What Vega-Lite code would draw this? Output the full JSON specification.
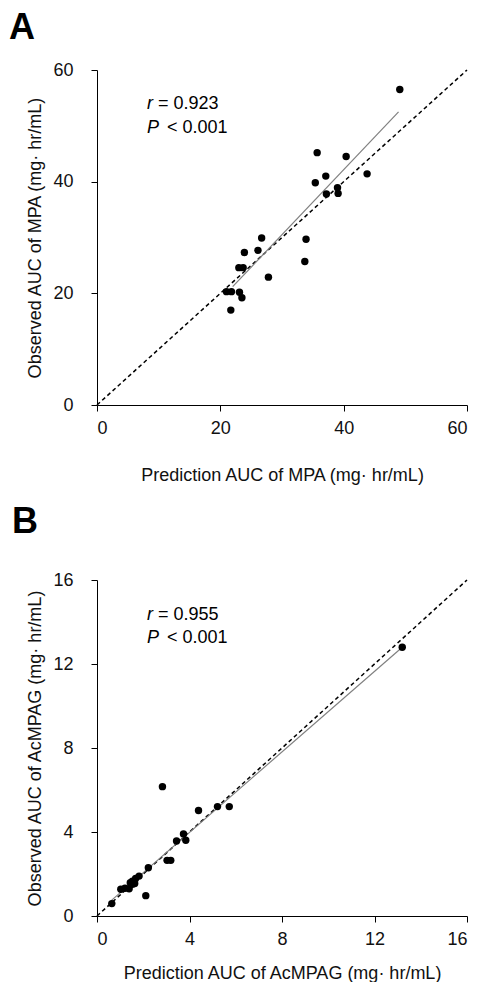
{
  "$schema": "https://vega.github.io/schema/vega-lite/v6.json",
  "padding": {"left": 9, "top": 10, "right": 0, "bottom": 0},
  "background": "white",
  "datasets": {
    "ptsA": [
      {"pred": 49.1, "obs": 56.5}, {"pred": 35.7, "obs": 45.2}, {"pred": 40.4, "obs": 44.5}, {"pred": 37.1, "obs": 41.0},
      {"pred": 43.8, "obs": 41.4}, {"pred": 35.4, "obs": 39.8}, {"pred": 39.0, "obs": 38.9}, {"pred": 37.2, "obs": 37.8},
      {"pred": 39.1, "obs": 37.9}, {"pred": 26.7, "obs": 29.9}, {"pred": 33.9, "obs": 29.7}, {"pred": 26.1, "obs": 27.7},
      {"pred": 23.9, "obs": 27.3}, {"pred": 33.7, "obs": 25.7}, {"pred": 23.0, "obs": 24.6}, {"pred": 23.7, "obs": 24.6},
      {"pred": 27.8, "obs": 22.9}, {"pred": 21.0, "obs": 20.3}, {"pred": 21.8, "obs": 20.3}, {"pred": 23.1, "obs": 20.2},
      {"pred": 23.5, "obs": 19.2}, {"pred": 21.7, "obs": 17.0}
    ],
    "identA": [{"pred": 0, "obs": 0}, {"pred": 60, "obs": 60}],
    "regA": [{"pred": 22.0, "obs": 21.2}, {"pred": 48.9, "obs": 52.5}],
    "statA": [
      {"sym": "r", "rest": "= 0.923", "pred": 8.1, "obs": 53.0},
      {"sym": "P", "rest": "< 0.001", "pred": 8.1, "obs": 48.7}
    ],
    "ptsB": [
      {"pred": 13.2, "obs": 12.8}, {"pred": 2.83, "obs": 6.16}, {"pred": 4.39, "obs": 5.02}, {"pred": 5.21, "obs": 5.21},
      {"pred": 5.72, "obs": 5.21}, {"pred": 3.74, "obs": 3.91}, {"pred": 3.44, "obs": 3.57}, {"pred": 3.84, "obs": 3.61},
      {"pred": 3.03, "obs": 2.65}, {"pred": 3.19, "obs": 2.65}, {"pred": 2.22, "obs": 2.30}, {"pred": 1.82, "obs": 1.90},
      {"pred": 1.67, "obs": 1.79}, {"pred": 1.53, "obs": 1.66}, {"pred": 1.53, "obs": 1.51}, {"pred": 1.39, "obs": 1.30},
      {"pred": 1.21, "obs": 1.32}, {"pred": 1.03, "obs": 1.27}, {"pred": 1.63, "obs": 1.55}, {"pred": 2.11, "obs": 0.97},
      {"pred": 0.64, "obs": 0.59}, {"pred": 1.44, "obs": 1.58}
    ],
    "identB": [{"pred": 0, "obs": 0}, {"pred": 16, "obs": 16}],
    "regB": [{"pred": 0.6, "obs": 0.72}, {"pred": 13.2, "obs": 12.8}],
    "statB": [
      {"sym": "r", "rest": "= 0.955", "pred": 2.16, "obs": 14.1},
      {"sym": "P", "rest": "< 0.001", "pred": 2.16, "obs": 13.0}
    ]
  },
  "spacing": 20,
  "vconcat": [
    {
      "width": 370,
      "height": 335,
      "title": {"text": "A", "anchor": "start", "frame": "group", "dx": -88, "offset": -14, "fontSize": 36, "fontWeight": "bold", "baseline": "alphabetic", "font": "Liberation Sans", "color": "black"},
      "layer": [
        {
          "data": {"name": "identA"},
          "mark": {"type": "line", "color": "black", "strokeDash": [4, 3], "strokeWidth": 1.5},
          "encoding": {
            "x": {"field": "pred", "type": "quantitative", "scale": {"domain": [0, 60], "nice": false, "zero": false},
                  "axis": {"values": [0, 20, 40, 60], "title": "Prediction AUC of MPA (mg· hr/mL)", "titlePadding": 29}},
            "y": {"field": "obs", "type": "quantitative", "scale": {"domain": [0, 60], "nice": false, "zero": false},
                  "axis": {"values": [0, 20, 40, 60], "title": "Observed AUC of MPA (mg· hr/mL)"}}
          }
        },
        {
          "data": {"name": "regA"},
          "mark": {"type": "line", "color": "#808080", "strokeWidth": 1.2},
          "encoding": {"x": {"field": "pred", "type": "quantitative"}, "y": {"field": "obs", "type": "quantitative"}}
        },
        {
          "data": {"name": "ptsA"},
          "mark": {"type": "circle", "color": "black", "opacity": 1, "size": 55},
          "encoding": {"x": {"field": "pred", "type": "quantitative"}, "y": {"field": "obs", "type": "quantitative"}}
        },
        {
          "data": {"name": "statA"},
          "mark": {"type": "text", "align": "left", "baseline": "alphabetic", "fontSize": 18, "fontStyle": "italic", "color": "black"},
          "encoding": {"x": {"field": "pred", "type": "quantitative"}, "y": {"field": "obs", "type": "quantitative"}, "text": {"field": "sym"}}
        },
        {
          "data": {"name": "statA"},
          "transform": [{"filter": "datum.sym == 'r'"}],
          "mark": {"type": "text", "align": "left", "baseline": "alphabetic", "fontSize": 18, "color": "black", "dx": 11},
          "encoding": {"x": {"field": "pred", "type": "quantitative"}, "y": {"field": "obs", "type": "quantitative"}, "text": {"field": "rest"}}
        },
        {
          "data": {"name": "statA"},
          "transform": [{"filter": "datum.sym == 'P'"}],
          "mark": {"type": "text", "align": "left", "baseline": "alphabetic", "fontSize": 18, "color": "black", "dx": 20},
          "encoding": {"x": {"field": "pred", "type": "quantitative"}, "y": {"field": "obs", "type": "quantitative"}, "text": {"field": "rest"}}
        }
      ]
    },
    {
      "width": 370,
      "height": 336,
      "title": {"text": "B", "anchor": "start", "frame": "group", "dx": -85, "offset": 2, "fontSize": 36, "fontWeight": "bold", "baseline": "alphabetic", "font": "Liberation Sans", "color": "black"},
      "layer": [
        {
          "data": {"name": "identB"},
          "mark": {"type": "line", "color": "black", "strokeDash": [4, 3], "strokeWidth": 1.5},
          "encoding": {
            "x": {"field": "pred", "type": "quantitative", "scale": {"domain": [0, 16], "nice": false, "zero": false},
                  "axis": {"values": [0, 4, 8, 12, 16], "title": "Prediction AUC of AcMPAG (mg· hr/mL)", "titlePadding": 16}},
            "y": {"field": "obs", "type": "quantitative", "scale": {"domain": [0, 16], "nice": false, "zero": false},
                  "axis": {"values": [0, 4, 8, 12, 16], "title": "Observed AUC of AcMPAG (mg· hr/mL)"}}
          }
        },
        {
          "data": {"name": "regB"},
          "mark": {"type": "line", "color": "#808080", "strokeWidth": 1.2},
          "encoding": {"x": {"field": "pred", "type": "quantitative"}, "y": {"field": "obs", "type": "quantitative"}}
        },
        {
          "data": {"name": "ptsB"},
          "mark": {"type": "circle", "color": "black", "opacity": 1, "size": 55},
          "encoding": {"x": {"field": "pred", "type": "quantitative"}, "y": {"field": "obs", "type": "quantitative"}}
        },
        {
          "data": {"name": "statB"},
          "mark": {"type": "text", "align": "left", "baseline": "alphabetic", "fontSize": 18, "fontStyle": "italic", "color": "black"},
          "encoding": {"x": {"field": "pred", "type": "quantitative"}, "y": {"field": "obs", "type": "quantitative"}, "text": {"field": "sym"}}
        },
        {
          "data": {"name": "statB"},
          "transform": [{"filter": "datum.sym == 'r'"}],
          "mark": {"type": "text", "align": "left", "baseline": "alphabetic", "fontSize": 18, "color": "black", "dx": 11},
          "encoding": {"x": {"field": "pred", "type": "quantitative"}, "y": {"field": "obs", "type": "quantitative"}, "text": {"field": "rest"}}
        },
        {
          "data": {"name": "statB"},
          "transform": [{"filter": "datum.sym == 'P'"}],
          "mark": {"type": "text", "align": "left", "baseline": "alphabetic", "fontSize": 18, "color": "black", "dx": 20},
          "encoding": {"x": {"field": "pred", "type": "quantitative"}, "y": {"field": "obs", "type": "quantitative"}, "text": {"field": "rest"}}
        }
      ]
    }
  ],
  "config": {
    "font": "Liberation Sans",
    "view": {"stroke": null},
    "axis": {
      "grid": false,
      "domainColor": "black",
      "domainWidth": 1,
      "tickColor": "black",
      "tickSize": 6,
      "labelFontSize": 18,
      "labelColor": "#111",
      "labelPadding": 8,
      "titleFontSize": 18,
      "titleFontWeight": "normal",
      "titleColor": "#111"
    },
    "axisY": {"labelPadding": 18, "titlePadding": 8},
    "text": {"font": "Liberation Sans"}
  }
}
